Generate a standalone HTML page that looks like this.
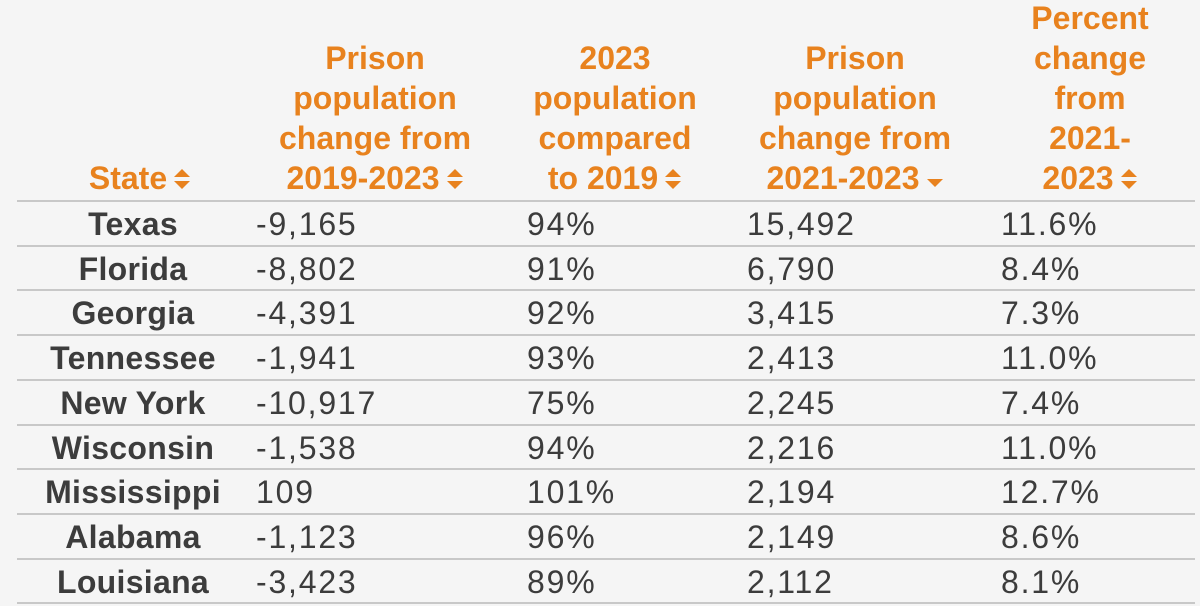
<!DOCTYPE html>
<html><head><meta charset="utf-8"><style>
body{margin:0;width:1200px;height:606px;overflow:hidden;background:#f5f5f5;font-family:"Liberation Sans",sans-serif;}
.h{position:absolute;color:#e8821e;font-weight:bold;font-size:32px;line-height:40px;text-align:center;}
.ico{display:inline-block;width:18px;height:24px;vertical-align:-2px;margin-left:6px}
.hr{position:absolute;left:17px;width:1178px;height:2px;background:#c8c8c8}
.c{position:absolute;font-size:32px;letter-spacing:1.8px;line-height:44px;color:#3c3c3c;white-space:nowrap}
.s{font-weight:bold;letter-spacing:0.3px;text-align:center;width:240px;left:13px}
</style></head><body>
<div class="h" style="left:30px;width:220px;top:158px">State<svg class="ico" viewBox="0 0 18 24"><path d="M1 10L9 2L17 10Z M1 14L9 22L17 14Z" fill="#e8821e"/></svg></div>
<div class="h" style="left:245px;width:260px;top:38px">Prison<br>population<br>change from<br>2019-2023<svg class="ico" viewBox="0 0 18 24"><path d="M1 10L9 2L17 10Z M1 14L9 22L17 14Z" fill="#e8821e"/></svg></div>
<div class="h" style="left:495px;width:240px;top:38px">2023<br>population<br>compared<br>to 2019<svg class="ico" viewBox="0 0 18 24"><path d="M1 10L9 2L17 10Z M1 14L9 22L17 14Z" fill="#e8821e"/></svg></div>
<div class="h" style="left:725px;width:260px;top:38px">Prison<br>population<br>change from<br>2021-2023<svg class="ico" viewBox="0 0 18 24"><path d="M1 12L9 20L17 12Z" fill="#e8821e"/></svg></div>
<div class="h" style="left:980px;width:220px;top:-2px">Percent<br>change<br>from<br>2021-<br>2023<svg class="ico" viewBox="0 0 18 24"><path d="M1 10L9 2L17 10Z M1 14L9 22L17 14Z" fill="#e8821e"/></svg></div>
<div id="rows"></div>
<script>
const states=["Texas","Florida","Georgia","Tennessee","New York","Wisconsin","Mississippi","Alabama","Louisiana"];
const change1923=["-9,165","-8,802","-4,391","-1,941","-10,917","-1,538","109","-1,123","-3,423"];
const pct2019=["94%","91%","92%","93%","75%","94%","101%","96%","89%"];
const change2123=["15,492","6,790","3,415","2,413","2,245","2,216","2,194","2,149","2,112"];
const pct2123=["11.6%","8.4%","7.3%","11.0%","7.4%","11.0%","12.7%","8.6%","8.1%"];
const root=document.getElementById('rows');
const rowH=44.7, top0=201;
function add(cls,txt,left,y,name){const d=document.createElement('div');d.className=cls;d.textContent=txt;if(left!==null)d.style.left=left+'px';d.style.top=y+'px';


root.appendChild(d);}
for(let i=0;i<=states.length;i++){const l=document.createElement('div');l.className='hr';l.style.top=(top0+i*rowH-1)+'px';


root.appendChild(l);}
states.forEach((s,i)=>{const y=top0+i*rowH+1;
add('c s',s,null,y,'state-name');
add('c',change1923[i],256,y,'change-2019-2023-value');
add('c',pct2019[i],527,y,'pct-of-2019-value');
add('c',change2123[i],747,y,'change-2021-2023-value');
add('c',pct2123[i],1001,y,'pct-change-2021-2023-value');});
</script>
</body></html>
